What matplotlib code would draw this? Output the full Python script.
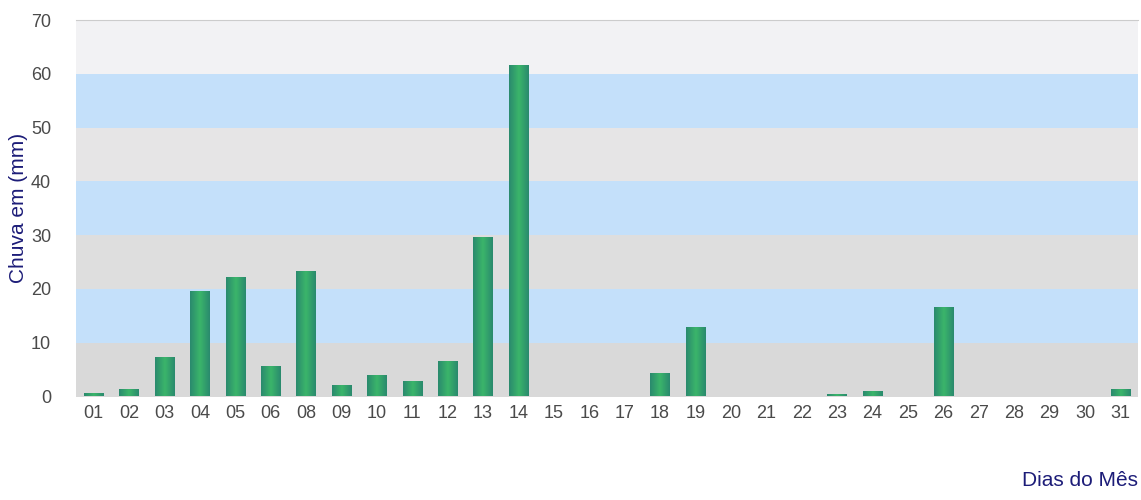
import numpy as np
import matplotlib.pyplot as plt
from matplotlib.colors import LinearSegmentedColormap

plt.rcParams["font.family"] = ["Liberation Sans", "DejaVu Sans"]

# daily rainfall (mm); day 07 is missing in the source chart
dias = ["01", "02", "03", "04", "05", "06", "08", "09", "10", "11",
        "12", "13", "14", "15", "16", "17", "18", "19", "20", "21",
        "22", "23", "24", "25", "26", "27", "28", "29", "30", "31"]
chuva = [0.4, 1.3, 7.2, 19.5, 22.1, 5.4, 23.2, 2.0, 3.9, 2.7,
         6.5, 29.5, 61.5, 0, 0, 0, 4.2, 12.8, 0, 0,
         0, 0.3, 0.8, 0, 16.5, 0, 0, 0, 0, 1.2]
faixas = [0, 10, 20, 30, 40, 50, 60, 70]
cores_faixa = ["#d9d9d9", "#c4e0fa", "#dedede", "#c4e0fa", "#e6e5e6", "#c4e0fa", "#f2f2f4"]

fig = plt.figure(figsize=(11.41, 5), dpi=100)
ax = fig.add_axes([0.0666, 0.207, 0.9308, 0.753])

x = np.arange(len(dias))

# horizontal bands behind the bars
for lo, hi, c in zip(faixas[:-1], faixas[1:], cores_faixa):
    ax.axhspan(lo, hi, color=c, lw=0, zorder=0)

# bars with a horizontal green gradient
verde = LinearSegmentedColormap.from_list("verde", ["#2a8a6e", "#3bb56a", "#2a8a6e"])
grad = np.linspace(0, 1, 64).reshape(1, -1)
largura = 0.55
bars = ax.bar(x, chuva, width=largura, color="none", zorder=2)
for b, v in zip(bars, chuva):
    if v <= 0:
        continue
    x0 = b.get_x()
    ax.imshow(grad, cmap=verde, aspect="auto", zorder=3,
              extent=(x0, x0 + b.get_width(), 0, v), interpolation="bilinear")
ax.set_xlim(-0.5, len(dias) - 0.5)
ax.set_ylim(0, 70)

ax.set_xticks(x)
ax.set_xticklabels(dias)
ax.set_yticks(range(0, 71, 10))
ax.tick_params(length=0, labelsize=13, colors="#4a4a4a")
ax.tick_params(axis="x", pad=6)
ax.tick_params(axis="y", pad=18)

for s in ["left", "right", "bottom"]:
    ax.spines[s].set_visible(False)
ax.spines["top"].set_color("#cccccc")

ax.set_ylabel("Chuva em (mm)", color="#1c1c78", fontsize=15, labelpad=2)
fig.text(0.997, 0.028, "Dias do Mês", color="#1c1c78", fontsize=15, ha="right")

fig.savefig("out.png", dpi=100)
